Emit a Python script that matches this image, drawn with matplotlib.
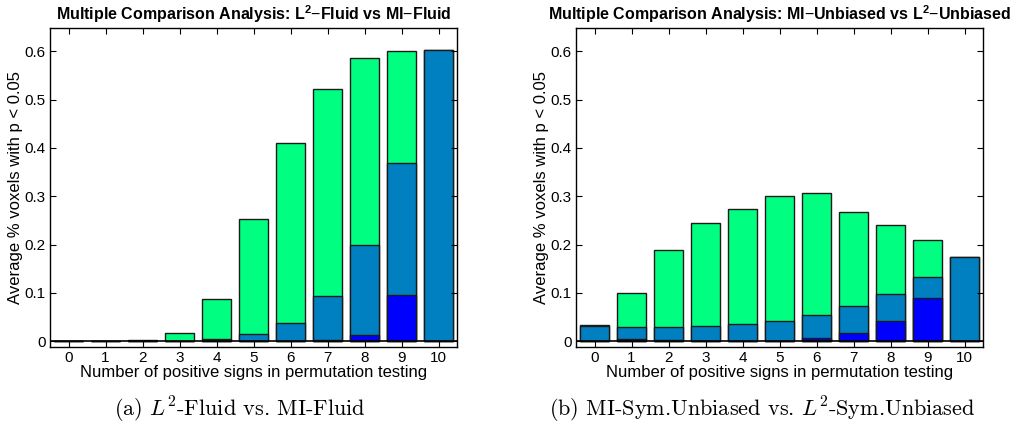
import matplotlib
matplotlib.use('Agg')
import numpy as np
import matplotlib.pyplot as plt

# number of positive signs
signs = list(range(11))
tick_labels = [str(s) for s in signs]

# panel (a): L2-Fluid vs MI-Fluid
fluid_green = [0.0014, 0.0012, 0.002, 0.017, 0.088, 0.252, 0.411, 0.522, 0.586, 0.601, 0.603]
fluid_steel = [0.0005, 0.0005, 0.001, 0.001, 0.005, 0.014, 0.038, 0.093, 0.198, 0.368, 0.603]
fluid_blue = [0.0, 0.0, 0.0, 0.0, 0.0, 0.0, 0.0, 0.002, 0.012, 0.095, 0.0]

# panel (b): MI-Unbiased vs L2-Unbiased
unb_green = [0.033, 0.099, 0.189, 0.244, 0.274, 0.301, 0.306, 0.267, 0.241, 0.210, 0.175]
unb_steel = [0.032, 0.030, 0.030, 0.031, 0.036, 0.042, 0.054, 0.072, 0.097, 0.132, 0.174]
unb_blue = [0.0, 0.004, 0.002, 0.001, 0.0, 0.001, 0.006, 0.017, 0.041, 0.089, 0.0]

GREEN = '#00ff80'
STEEL = '#0080c0'
BLUE = '#0000ff'

plt.rcParams['font.family'] = ['Liberation Sans', 'DejaVu Sans']
plt.rcParams['mathtext.fontset'] = 'custom'
plt.rcParams['mathtext.rm'] = 'Liberation Sans'
plt.rcParams['mathtext.bf'] = 'Liberation Sans:bold'


def draw_panel(ax, green, steel, blue, title):
    """Overlapping bars, each drawn from zero, smallest in front."""
    for vals, col in ((green, GREEN), (steel, STEEL), (blue, BLUE)):
        ax.bar(signs, vals, width=0.8, color=col, edgecolor='#1a1a1a', linewidth=1.0)
    ax.set_xlim(-0.5, 10.5)
    ax.set_ylim(-0.012, 0.648)
    ax.set_xticks(signs)
    ax.set_xticklabels(tick_labels, fontsize=11)
    ax.set_yticks([0, 0.1, 0.2, 0.3, 0.4, 0.5, 0.6])
    ax.set_yticklabels(['0', '0.1', '0.2', '0.3', '0.4', '0.5', '0.6'], fontsize=11)
    ax.tick_params(direction='in', top=True, right=True, length=4, width=0.8, pad=3)
    ax.axhline(0, color='black', linewidth=1.2)
    for sp in ax.spines.values():
        sp.set_linewidth(1.0)
    ax.set_xlabel('Number of positive signs in permutation testing', fontsize=12, labelpad=0)
    ax.set_ylabel('Average % voxels with p < 0.05', fontsize=12, labelpad=1)
    ax.set_title(title, fontsize=11.5, fontweight='bold', pad=6)


fig = plt.figure(figsize=(10.26, 4.28), dpi=100)
ax1 = fig.add_axes([50 / 1026, 1 - 347 / 428, 407 / 1026, 319 / 428])
ax2 = fig.add_axes([576 / 1026, 1 - 347 / 428, 407 / 1026, 319 / 428])

draw_panel(ax1, fluid_green, fluid_steel, fluid_blue,
           r'Multiple Comparison Analysis: L$^\mathbf{2}$$-$Fluid vs MI$-$Fluid')
draw_panel(ax2, unb_green, unb_steel, unb_blue,
           r'Multiple Comparison Analysis: MI$-$Unbiased vs L$^\mathbf{2}$$-$Unbiased')

fig.text(240 / 1026, 1 - 410 / 428, r'(a) $L^2$-Fluid vs. MI-Fluid', ha='center', va='center',
         fontsize=16, family='cmr10', math_fontfamily='cm')
fig.text(762 / 1026, 1 - 410 / 428, r'(b) MI-Sym.Unbiased vs. $L^2$-Sym.Unbiased', ha='center',
         va='center', fontsize=16, family='cmr10', math_fontfamily='cm')

fig.savefig('out.png', dpi=100)
